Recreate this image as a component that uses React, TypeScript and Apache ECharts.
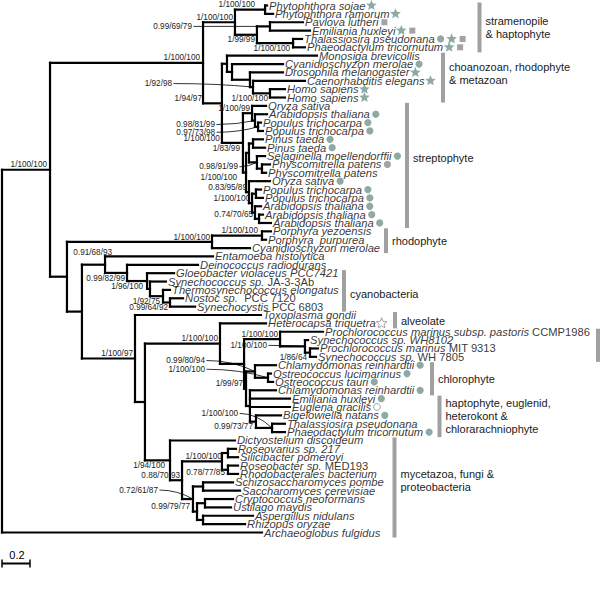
import React, { useEffect, useRef } from 'react';
import * as echarts from 'echarts';

// ---------------- data ----------------
// leaf names: text after '#' is set upright
const LEAF_NAMES: string[] = [
  'Phytophthora sojae', 'Phytophthora ramorum', 'Pavlova lutheri', 'Emiliania huxleyi',
  'Thalassiosira pseudonana', 'Phaeodactylum tricornutum', 'Monosiga brevicollis',
  'Cyanidioschyzon merolae', 'Drosophila melanogaster', 'Caenorhabditis elegans',
  'Homo sapiens', 'Homo sapiens', 'Oryza sativa', 'Arabidopsis thaliana',
  'Populus trichocarpa', 'Populus trichocarpa', 'Pinus taeda', 'Pinus taeda',
  'Selaginella moellendorffii', 'Physcomitrella patens', 'Physcomitrella patens',
  'Oryza sativa', 'Populus trichocarpa', 'Populus trichocarpa', 'Arabidopsis thaliana',
  'Arabidopsis thaliana', 'Arabidopsis thaliana', 'Porphyra yezoensis', 'Porphyra  purpurea',
  'Cyanidioschyzon merolae', 'Entamoeba histolytica', 'Deinococcus radiodurans',
  'Gloeobacter violaceus PCC7421', 'Synechococcus sp. #JA-3-3Ab', 'Thermosynechococcus elongatus',
  'Nostoc sp.  #PCC 7120', 'Synechocystis #PCC 6803', 'Toxoplasma gondii', 'Heterocapsa triquetra',
  'Prochlorococcus marinus subsp. pastoris #CCMP1986', 'Synechococcus sp. WH8102',
  'Prochlorococcus marinus #MIT 9313', 'Synechococcus sp. #WH 7805', 'Chlamydomonas reinhardtii',
  'Ostreococcus lucimarinus', 'Ostreococcus tauri', 'Chlamydomonas reinhardtii', 'Emiliania huxleyi',
  'Euglena gracilis', 'Bigelowiella natans', 'Thalassiosira pseudonana', 'Phaeodactylum tricornutum',
  'Dictyostelium discoideum', 'Roseovarius sp. 217', 'Silicibacter pomeroyi', 'Roseobacter sp. #MED193',
  'Rhodobacterales bacterium', 'Schizosaccharomyces pombe', 'Saccharomyces cerevisiae',
  'Cryptococcus neoformans', 'Ustilago maydis', 'Aspergillus nidulans', 'Rhizopus oryzae',
  'Archaeoglobus fulgidus',
];

// distance from root of each leaf tip
const LEAF_DEPTH: number[] = [
  1.893, 1.936, 2.15, 2.2, 2.143, 2.164, 2.25, 2.007, 2.007, 2.164,
  2.021, 2.021, 1.886, 1.893, 1.85, 1.864, 1.864, 1.879, 1.879, 1.914,
  1.886, 1.914, 1.85, 1.864, 1.85, 1.864, 1.921, 1.921, 1.886, 1.771,
  1.507, 1.4, 1.229, 1.171, 1.2, 1.293, 1.379, 1.85, 1.886, 2.293,
  2.186, 2.257, 2.243, 1.957, 1.921, 1.936, 1.957, 2.057, 2.057, 1.993,
  2.021, 2.021, 1.664, 1.671, 1.686, 1.686, 1.686, 1.65, 1.7, 1.65,
  1.636, 1.793, 1.736, 1.857,
];

// markers after each leaf: C circle, S star, Q square, G grey circle, s open star, o open circle
const LEAF_MARKS: string[] = [
  'S', 'S', 'Q', 'SQ', 'CSQ', 'SQ', '', 'C', 'S', 'S',
  'S', 'S', '', 'C', 'C', 'C', 'C', 'C', 'C', 'G',
  '', 'C', 'C', 'C', 'C', 'C', 'C', '', '', '',
  '', '', '', '', '', '', '', '', 's', '',
  '', '', '', 'C', 'C', 'C', 'C', 'C', 'o', 'C',
  '', 'C', '', '', '', '', '', '', '', '',
  '', '', '', '',
];

// internal nodes: [id, depth, children, support]
type Clade = [string, number, (string | number)[], string];
const CLADES: Clade[] = [
  ['root', 0, ['A', 63], ''],
  ['A', 0.343, ['B', 'D'], '1/100/100'],
  ['B', 1.436, ['T', 'C'], '1/100/100'],
  ['T', 1.664, ['P', 'Q'], '1/100/100'],
  ['P', 1.879, [0, 1], '1/100/100'],
  ['Q', 1.821, ['R', 'S'], '1/99/99'],
  ['R', 1.914, [2, 3], '0.99/69/79'],
  ['S', 2.079, [4, 5], '1/100/100'],
  ['C', 1.571, ['M', 'V'], '1/94/97'],
  ['M', 1.607, [6, 'N'], ''],
  ['N', 1.643, [7, 'O'], ''],
  ['O', 1.771, [8, 'O2'], ''],
  ['O2', 1.793, [9, 'H'], '1/92/98'],
  ['H', 1.914, [10, 11], '1/100/100'],
  ['V', 1.721, ['U3', 'W3'], '1/100/100'],
  ['U3', 1.786, [12, 'U2'], '1/100/99'],
  ['U2', 1.807, [13, 'U1'], '0.98/81/99'],
  ['U1', 1.829, [14, 15], '0.97/73/98'],
  ['W3', 1.743, ['W2', 'X5'], '1/100/100'],
  ['W2', 1.764, ['Pin', 'W1'], '1/83/99'],
  ['Pin', 1.793, [16, 17], ''],
  ['W1', 1.821, [18, 'Phy'], '0.98/91/99'],
  ['Phy', 1.857, [19, 20], ''],
  ['X5', 1.764, [21, 'X4'], '0.83/95/89'],
  ['X4', 1.786, ['X1', 'X3'], '1/100/100'],
  ['X1', 1.814, [22, 23], ''],
  ['X3', 1.807, [24, 'X2'], ''],
  ['X2', 1.836, [25, 26], '0.74/70/65'],
  ['D', 0.464, ['Y', 'E'], ''],
  ['Y', 1.5, ['Por', 29], '1/100/100'],
  ['Por', 1.857, [27, 28], '1/100/100'],
  ['E', 0.571, ['F', 'Z'], ''],
  ['F', 0.736, [30, 'G'], '0.91/68/93'],
  ['G', 0.893, [31, 'Hc'], '0.99/82/99'],
  ['Hc', 1.036, [32, 'H2'], '1/96/100'],
  ['H2', 1.057, [33, 'H3'], ''],
  ['H3', 1.15, [34, 'H4'], '1/92/75'],
  ['H4', 1.2, [35, 36], '0.99/64/92'],
  ['Z', 0.95, [37, 'Z2'], '1/100/97'],
  ['Z2', 1.021, ['K', 'Mx'], ''],
  ['K', 1.557, [38, 'I2'], '1/100/100'],
  ['I2', 1.729, ['L3', 'I1'], ''],
  ['L3', 1.986, [39, 'L2'], '1/100/100'],
  ['L2', 2.164, [40, 'L1'], '1/100/100'],
  ['L1', 2.2, [41, 42], '1/86/64'],
  ['I1', 1.743, ['Chl', 'J5'], '1/99/97'],
  ['Chl', 1.807, [43, 'Ost'], '0.99/80/94'],
  ['Ost', 1.9, [44, 45], '1/100/100'],
  ['J5', 1.771, [46, 47, 48, 'J2'], ''],
  ['J2', 1.814, [49, 'J1'], '0.99/73/77'],
  ['J1', 1.929, [50, 51], '1/100/100'],
  ['Mx', 1.2, [52, 'Fz6'], '1/94/100'],
  ['Fz6', 1.286, ['R3', 'Fz5'], '0.88/70/93'],
  ['R3', 1.571, ['R1', 'R2'], '1/100/100'],
  ['R1', 1.614, [53, 54], ''],
  ['R2', 1.614, [55, 56], '0.78/77/85'],
  ['Fz5', 1.364, ['Fz1', 'Fz4'], '0.72/61/87'],
  ['Fz1', 1.436, [57, 58], ''],
  ['Fz4', 1.393, ['Fz2', 'Fz3'], '0.99/79/77'],
  ['Fz2', 1.45, [59, 60], ''],
  ['Fz3', 1.436, [61, 62], ''],
];

const GROUP_NAMES: string[] = [
  'stramenopile\n& haptophyte', 'choanozoan, rhodophyte\n& metazoan', 'streptophyte', 'rhodophyte',
  'cyanobacteria', 'alveolate', '', 'chlorophyte',
  'haptophyte, euglenid,\nheterokont &\nchlorarachniophyte', 'mycetazoa, fungi &\nproteobacteria',
];
const GROUP_FIRST: number[] = [0, 6, 12, 27, 32, 37, 39, 43, 47, 52];
const GROUP_LAST: number[] = [5, 11, 26, 29, 36, 38, 42, 46, 51, 63];

const SCALE_LENGTH = 0.2;
const SCALE_LABEL = '0.2';

// ---------------- layout (px) ----------------
const FONT = '"Liberation Sans", Arial, Helvetica, sans-serif';
const LEAF_FS = 11.2;
const SUP_FS = 8.2;
const GROUP_BAR_X = [479.5, 443, 407, 386, 344, 395, 598, 432, 439.5, 394.5];
const GROUP_LABEL_DY = [0, -4, -7, 0, 3, 1, 0, 0, 0, -7];
// mode: a = above branch, b = below, l = with leader line, f = free
const SUPPORT_PLACE: Record<string, [string, number, number]> = {
  A: ['a', -3, 0], B: ['a', -3, 0], T: ['a', -2, 0], P: ['a', -10, 0], Q: ['b', -2, 0],
  R: ['l', -78, 0], S: ['b', -3, 0], C: ['a', -20, 0], O2: ['l', -81, -3.5], H: ['b', -2, 0],
  V: ['a', -23, 0], U3: ['a', -2, 0], U2: ['l', -40, 4], U1: ['l', -43, 5.5], W3: ['b', -9, 0],
  W2: ['a', -9, 0], W1: ['l', -19, 4.5], X5: ['a', -2, 0], X4: ['a', -2, 0], X2: ['a', -6, 0],
  Y: ['a', -2, 0], Por: ['a', -4, 0], F: ['f', 7, -12], G: ['b', -2, 0], Hc: ['b', -4, 0],
  H3: ['b', -3, 0], H4: ['b', -2, 0], Z: ['a', -2, 0], K: ['a', -2, 0], L3: ['a', -2, 0],
  L2: ['l', -38, -1], L1: ['b', -3, 0], I1: ['a', -3, 0], Chl: ['l', -50, -11], Ost: ['l', -63, -8.5],
  J2: ['b', -3, 0], J1: ['l', -34, -14.5], Mx: ['b', -5, 0], Fz6: ['a', -2, 0], R3: ['a', 0, 0],
  R2: ['f', -3, 2.5], Fz5: ['l', -35, -9], Fz4: ['a', -7, 0],
};

const TEAL = '#8fa9a3';
const GREY = '#a3a3a3';

function buildTree() {
  const map = new Map<string, { depth: number; children: (string | number)[]; support: string }>();
  CLADES.forEach(([id, d, ch, s]) => map.set(id, { depth: d, children: ch, support: s }));
  const memo = new Map<string, number>();
  const yOf = (c: string | number): number => {
    if (typeof c === 'number') return c;
    if (memo.has(c)) return memo.get(c)!;
    const n = map.get(c)!;
    const y = (yOf(n.children[0]) + yOf(n.children[n.children.length - 1])) / 2;
    memo.set(c, y);
    return y;
  };
  const depthOf = (c: string | number) => (typeof c === 'number' ? LEAF_DEPTH[c] : map.get(c)!.depth);
  const edges: number[][] = [];
  const supports: { text: string; mode: string; dx: number; dy: number }[] = [];
  const supData: number[][] = [];
  CLADES.forEach(([id, d, ch, s]) => {
    const ys = ch.map(yOf);
    edges.push([d, ys[0], d, ys[ys.length - 1]]);
    ch.forEach((c) => edges.push([d, yOf(c), depthOf(c), yOf(c)]));
    if (s) {
      const pl = SUPPORT_PLACE[id] || ['a', -2, 0];
      supData.push([d, yOf(id), supports.length]);
      supports.push({ text: s, mode: pl[0], dx: pl[1], dy: pl[2] });
    }
  });
  return { edges, supports, supData };
}

function starPoints(cx: number, cy: number, R: number, r: number) {
  const pts: number[][] = [];
  for (let i = 0; i < 10; i++) {
    const a = -Math.PI / 2 + (i * Math.PI) / 5;
    const rad = i % 2 === 0 ? R : r;
    pts.push([cx + rad * Math.cos(a), cy + rad * Math.sin(a)]);
  }
  return pts;
}

export default function App() {
  const ref = useRef<HTMLDivElement>(null);
  useEffect(() => {
    if (!ref.current) return;
    const chart = echarts.init(ref.current, undefined, { renderer: 'svg' });
    const { edges, supports, supData } = buildTree();

    const ctx = document.createElement('canvas').getContext('2d')!;
    const measure = (t: string, italic: boolean) => {
      ctx.font = `${italic ? 'italic ' : ''}${LEAF_FS}px ${FONT}`;
      return ctx.measureText(t).width;
    };
    const richNames = LEAF_NAMES.map((n) => {
      const [it, rm] = n.split('#');
      return rm ? `{i|${it}}{n|${rm}}` : `{i|${it}}`;
    });
    const LABEL_GAP = 2;
    const markData: number[][] = [];
    const codes: Record<string, number> = { C: 0, S: 1, Q: 2, G: 3, s: 4, o: 5 };
    LEAF_NAMES.forEach((n, i) => {
      const marks = LEAF_MARKS[i];
      if (!marks) return;
      const [it, rm] = n.split('#');
      const w = measure(it, true) + (rm ? measure(rm, false) : 0);
      for (let k = 0; k < marks.length; k++) {
        markData.push([LEAF_DEPTH[i], i, LABEL_GAP + w + 6 + k * 11, codes[marks[k]]]);
      }
    });

    const groupData = GROUP_FIRST.map((f, i) => [f, GROUP_LAST[i], i]);

    chart.setOption({
      animation: false,
      textStyle: { fontFamily: FONT },
      grid: { left: 2, top: 5.5, width: 560, height: 527 },
      xAxis: { type: 'value', min: 0, max: 4, show: false },
      yAxis: { type: 'value', min: 0, max: 63, inverse: true, show: false },
      series: [
        {
          type: 'custom',
          name: 'branches',
          silent: true,
          clip: false,
          data: edges,
          renderItem: (_p: any, api: any) => {
            const a = api.coord([api.value(0), api.value(1)]);
            const b = api.coord([api.value(2), api.value(3)]);
            return {
              type: 'line',
              shape: { x1: a[0], y1: a[1], x2: b[0], y2: b[1] },
              style: { stroke: '#000', lineWidth: 2.2, lineCap: 'square' },
            };
          },
        },
        {
          type: 'scatter',
          name: 'leaves',
          silent: true,
          symbolSize: 0.1,
          itemStyle: { color: 'rgba(0,0,0,0)' },
          data: LEAF_DEPTH.map((d, i) => [d, i]),
          label: {
            show: true,
            position: 'right',
            distance: LABEL_GAP,
            formatter: (p: any) => richNames[p.dataIndex],
            rich: {
              i: { fontStyle: 'italic', fontSize: LEAF_FS, fontFamily: FONT, color: '#000' },
              n: { fontSize: LEAF_FS, fontFamily: FONT, color: '#000' },
            },
          },
        },
        {
          type: 'custom',
          name: 'support',
          silent: true,
          clip: false,
          data: supData,
          renderItem: (_p: any, api: any) => {
            const s = supports[api.value(2)];
            const p = api.coord([api.value(0), api.value(1)]);
            const x = p[0] + s.dx;
            let y = p[1];
            let va = 'middle';
            if (s.mode === 'a') { y = p[1] - 0.8; va = 'bottom'; }
            else if (s.mode === 'b') { y = p[1] + 1.2; va = 'top'; }
            else { y = p[1] + s.dy; }
            const children: any[] = [
              {
                type: 'text',
                x, y,
                style: { text: s.text, align: 'right', verticalAlign: va, fontSize: SUP_FS, fontFamily: FONT, fill: '#222' },
              },
            ];
            if (s.mode === 'l') {
              children.push({
                type: 'bezierCurve',
                shape: { x1: x + 1.5, y1: y, x2: p[0], y2: p[1], cpx1: x + (p[0] - x) * 0.55, cpy1: y },
                style: { stroke: '#000', lineWidth: 0.8, fill: 'none' },
              });
            }
            return { type: 'group', children };
          },
        },
        {
          type: 'custom',
          name: 'markers',
          silent: true,
          clip: false,
          data: markData,
          renderItem: (_p: any, api: any) => {
            const p = api.coord([api.value(0), api.value(1)]);
            const cx = p[0] + api.value(2);
            const cy = p[1];
            const t = api.value(3);
            if (t === 0 || t === 3) return { type: 'circle', shape: { cx, cy, r: 3.6 }, style: { fill: t === 0 ? TEAL : GREY } };
            if (t === 5) return { type: 'circle', shape: { cx, cy, r: 3.4 }, style: { fill: '#fff', stroke: '#9a9a9a', lineWidth: 0.9 } };
            if (t === 2) return { type: 'rect', shape: { x: cx - 3, y: cy - 3, width: 6, height: 6 }, style: { fill: GREY } };
            if (t === 4) return { type: 'polygon', shape: { points: starPoints(cx, cy, 5.6, 2.5) }, style: { fill: '#fff', stroke: '#9a9a9a', lineWidth: 0.9 } };
            return { type: 'polygon', shape: { points: starPoints(cx, cy, 5.6, 2.5) }, style: { fill: TEAL } };
          },
        },
        {
          type: 'custom',
          name: 'groups',
          silent: true,
          clip: false,
          data: groupData,
          renderItem: (_p: any, api: any) => {
            const i = api.value(2);
            const a = api.coord([0, api.value(0) - 0.36]);
            const b = api.coord([0, api.value(1) + 0.6]);
            const x = GROUP_BAR_X[i];
            const children: any[] = [
              { type: 'rect', shape: { x: x - 2, y: a[1], width: 4, height: b[1] - a[1] }, style: { fill: '#a0a0a0' } },
            ];
            if (GROUP_NAMES[i]) {
              children.push({
                type: 'text',
                x: x + 6,
                y: (a[1] + b[1]) / 2 + GROUP_LABEL_DY[i],
                style: { text: GROUP_NAMES[i], align: 'left', verticalAlign: 'middle', fontSize: 11, lineHeight: 13, fontFamily: FONT, fill: '#1a1a1a' },
              });
            }
            return { type: 'group', children };
          },
        },
        {
          type: 'custom',
          name: 'scale',
          silent: true,
          clip: false,
          data: [[0, 63]],
          renderItem: (_p: any, api: any) => {
            const a = api.coord([0, api.value(1)]);
            const b = api.coord([SCALE_LENGTH, api.value(1)]);
            const y = a[1] + 31;
            return {
              type: 'group',
              children: [
                { type: 'line', shape: { x1: a[0], y1: y, x2: b[0], y2: y }, style: { stroke: '#000', lineWidth: 2 } },
                { type: 'line', shape: { x1: a[0], y1: y - 4, x2: a[0], y2: y + 4 }, style: { stroke: '#000', lineWidth: 1.5 } },
                { type: 'line', shape: { x1: b[0], y1: y - 4, x2: b[0], y2: y + 4 }, style: { stroke: '#000', lineWidth: 1.5 } },
                { type: 'text', x: (a[0] + b[0]) / 2 + 1, y: y - 3, style: { text: SCALE_LABEL, align: 'center', verticalAlign: 'bottom', fontSize: 11, fontFamily: FONT, fill: '#000' } },
              ],
            };
          },
        },
      ],
    });
    return () => chart.dispose();
  }, []);
  return <div ref={ref} style={{ position: 'fixed', left: 0, top: 0, width: 600, height: 609, background: '#fff' }} />;
}
